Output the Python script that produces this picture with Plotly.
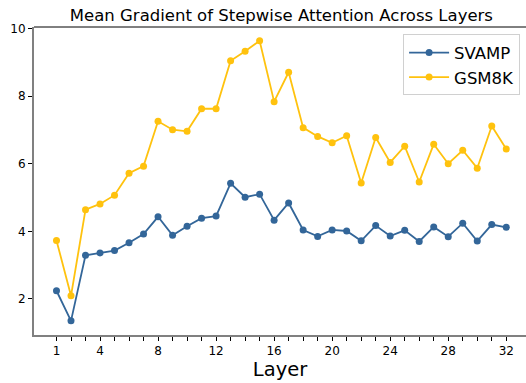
import plotly.graph_objects as go

layers = list(range(1, 33))
svamp = [2.24, 1.35, 3.29, 3.36, 3.43, 3.66, 3.92, 4.43, 3.88, 4.15, 4.39, 4.45,
         5.42, 5.01, 5.10, 4.33, 4.84, 4.04, 3.85, 4.04, 4.01, 3.72, 4.17, 3.86,
         4.03, 3.70, 4.13, 3.84, 4.24, 3.71, 4.20, 4.12]
gsm8k = [3.73, 2.09, 4.64, 4.81, 5.07, 5.72, 5.93, 7.26, 7.01, 6.96, 7.63, 7.63,
         9.05, 9.33, 9.64, 7.84, 8.71, 7.07, 6.81, 6.62, 6.83, 5.43, 6.78, 6.04,
         6.52, 5.46, 6.58, 6.00, 6.40, 5.87, 7.12, 6.44]
xtick_vals = [1, 4, 8, 12, 16, 20, 24, 28, 32]
ytick_vals = [2, 4, 6, 8, 10]

BLUE = "#336699"
GOLD = "#FFC20E"
FONT = "DejaVu Sans"

fig = go.Figure()
fig.add_trace(go.Scatter(x=layers, y=svamp, mode="lines+markers", name="SVAMP",
                         line=dict(color=BLUE, width=1.8),
                         marker=dict(color=BLUE, size=7)))
fig.add_trace(go.Scatter(x=layers, y=gsm8k, mode="lines+markers", name="GSM8K",
                         line=dict(color=GOLD, width=1.8),
                         marker=dict(color=GOLD, size=7)))

fig.update_layout(
    width=526, height=383,
    margin=dict(l=34, r=0, t=27, b=48),
    paper_bgcolor="white", plot_bgcolor="white",
    font=dict(family=FONT, color="black", size=12),
    title=dict(text="Mean Gradient of Stepwise Attention Across Layers",
               x=(34 + 528.8) / 2 / 526, xanchor="center", y=1 - 15 / 383, yanchor="middle",
               font=dict(size=16.5, family=FONT, color="black")),
    legend=dict(x=0.988, xanchor="right", y=0.976, yanchor="top",
                bgcolor="rgba(255,255,255,0.8)", bordercolor="#d0d0d0", borderwidth=1,
                font=dict(size=16.5, family=FONT), itemwidth=40, tracegroupgap=2),
    showlegend=True,
)
fig.update_xaxes(range=[-0.55, 33.36], tickmode="array", tickvals=xtick_vals,
                 ticktext=[str(v) for v in xtick_vals],
                 minor=dict(tickmode="array", tickvals=layers, ticks="outside", ticklen=4,
                            tickcolor="black", tickwidth=1),
                 ticks="outside", ticklen=4, tickcolor="black", tickwidth=1,
                 showline=True, linecolor="#808080", linewidth=2, mirror=False,
                 showgrid=False, zeroline=False,
                 title=dict(text="Layer", font=dict(size=19.5, family=FONT), standoff=4),
                 tickfont=dict(size=12, family=FONT))
fig.update_yaxes(range=[0.93, 10.05], tickmode="array", tickvals=ytick_vals,
                 ticktext=[str(v) for v in ytick_vals],
                 ticks="outside", ticklen=4, tickcolor="black", tickwidth=1,
                 showline=True, linecolor="#808080", linewidth=2, mirror=False,
                 showgrid=False, zeroline=False,
                 tickfont=dict(size=12, family=FONT))
fig.add_shape(type="line", xref="paper", yref="paper", x0=0, x1=1, y0=1, y1=1,
              line=dict(color="black", width=1))

fig.write_html("out.html")
